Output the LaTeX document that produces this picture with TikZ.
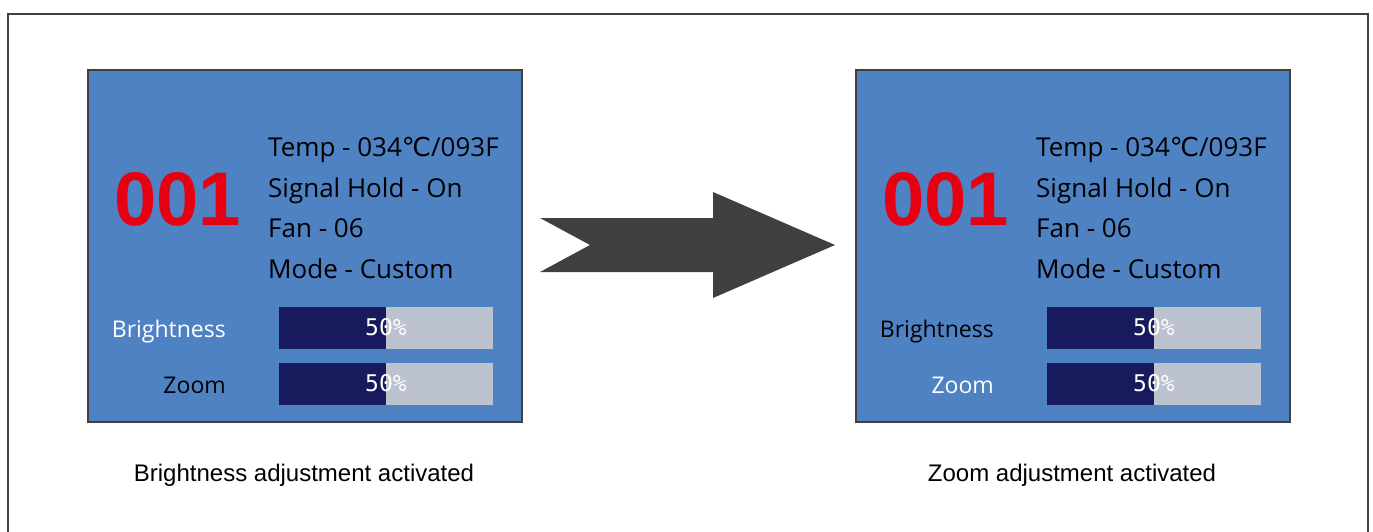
\documentclass[tikz,border=0pt]{standalone}
\usepackage{fontspec}
\setmainfont{Open Sans}
\newfontfamily\capfont{Liberation Sans}
\newfontfamily\numfont{Liberation Sans}
\newfontfamily\symfont{DejaVu Sans}
\newfontfamily\monofont{DejaVu Sans Mono}
\definecolor{panelblue}{HTML}{4F82C2}
\definecolor{framegray}{HTML}{404042}
\definecolor{bardark}{HTML}{171A5C}
\definecolor{barlight}{HTML}{BCC2CE}
\definecolor{numred}{HTML}{E60012}
\definecolor{arrowgray}{HTML}{404042}
\tikzset{
  panel/.style={draw=framegray, line width=2pt, fill=panelblue},
  info/.style={anchor=base west, inner sep=0pt, font=\fontsize{26}{30}\selectfont},
  barlabel/.style={anchor=base east, inner sep=0pt, font=\fontsize{23}{28}\selectfont},
  bigno/.style={anchor=base west, inner sep=0pt, text=numred, font=\numfont\bfseries\fontsize{76}{86}\selectfont},
  pct/.style={anchor=base, inner sep=0pt, text=white, font=\monofont\fontsize{23}{27}\selectfont},
  caption/.style={anchor=base, inner sep=0pt, font=\capfont\fontsize{24}{28}\selectfont},
}
\begin{document}
\begin{tikzpicture}[x=1pt,y=-1pt]
\useasboundingbox (0,0) rectangle (1373,532);
\fill[white] (0,0) rectangle (1373,532);
\draw[framegray, line width=2pt] (8,540) -- (8,14) -- (1368,14) -- (1368,540);
\foreach \p/\dx/\bc/\zc/\cap in {L/0/white/black/Brightness adjustment activated, R/768/black/white/Zoom adjustment activated}{
  \begin{scope}[shift={(\dx,0)}, name prefix=\p-]
    \node[panel, minimum width=434pt, minimum height=352pt, anchor=north west] (panel) at (87,69) {};
    \node[bigno] (num) at (114,225) {001};
    \node[info] (temp) at (268,157) {Temp - 034{\symfont ℃}/093F};
    \node[info] (sig) at (268,197) {Signal Hold - On};
    \node[info] (fan) at (268,237) {Fan - 06};
    \node[info] (mode) at (268,278) {Mode - Custom};
    \node[barlabel, text=\bc] (bl) at (226,337) {Brightness};
    \node[barlabel, text=\zc] (zl) at (226,393) {Zoom};
    \fill[bardark] (279,307) rectangle (386,349);
    \fill[barlight] (386,307) rectangle (493,349);
    \fill[bardark] (279,363) rectangle (386,405);
    \fill[barlight] (386,363) rectangle (493,405);
    \node[pct] (bp) at (386,335) {50\%};
    \node[pct] (zp) at (386,391) {50\%};
    \node[caption] (cap) at (304,481) {\cap};
  \end{scope}
}
\fill[arrowgray] (540,218) -- (713,218) -- (713,192) -- (835,245) -- (713,298) -- (713,272) -- (540,272) -- (590,245) -- cycle;
\end{tikzpicture}
\end{document}
